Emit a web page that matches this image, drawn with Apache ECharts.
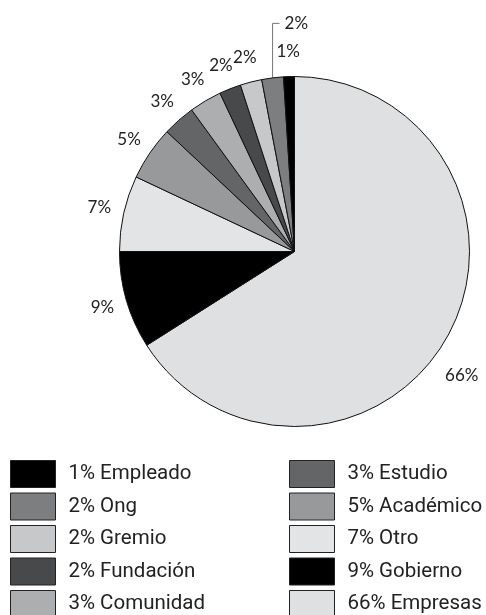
<!DOCTYPE html>
<html>
<head>
<meta charset="utf-8">
<script src="https://cdn.jsdelivr.net/npm/echarts@6/dist/echarts.min.js"></script>
<style>
  html, body { margin: 0; padding: 0; background: #fff; }
  #chart { width: 486px; height: 615px; }
</style>
</head>
<body>
<div id="chart"></div>
<script>
// categorías en orden horario desde las 12
const categories = ["Empresas", "Gobierno", "Otro", "Académico", "Estudio", "Comunidad", "Fundación", "Gremio", "Ong", "Empleado"];
const values = [66, 9, 7, 5, 3, 3, 2, 2, 2, 1];
const colors = ["#dfe0e2", "#000000", "#e3e4e6", "#98999b", "#646567", "#adaeb0", "#48494b", "#c7c8ca", "#7d7e80", "#000000"];

// columnas de la leyenda
const legendLeft = ["Empleado", "Ong", "Gremio", "Fundación", "Comunidad"];
const legendRight = ["Estudio", "Académico", "Otro", "Gobierno", "Empresas"];

const chart = echarts.init(document.getElementById("chart"));

const valueOf = (name) => values[categories.indexOf(name)];

const pieData = categories.map((name, i) => {
  const item = { name: name, value: values[i], itemStyle: { color: colors[i] } };
  // la etiqueta de "Ong" va arriba con línea guía
  if (name === "Ong") item.labelLine = { show: true };
  return item;
});

const legendBase = {
  orient: "vertical",
  top: 460,
  height: 160,
  padding: 0,
  itemWidth: 45,
  itemHeight: 27,
  itemGap: 4.5,
  icon: "rect",
  selectedMode: false,
  itemStyle: { borderColor: "#222", borderWidth: 1 },
  textStyle: {
    fontFamily: "Roboto",
    fontSize: 20.5,
    color: "#222",
    padding: [0, 0, 0, 8],
  },
  formatter: (name) => valueOf(name) + "% " + name,
};

chart.setOption({
  animation: false,
  legend: [
    Object.assign({}, legendBase, { left: 10, data: legendLeft }),
    Object.assign({}, legendBase, { left: 289, data: legendRight }),
  ],
  series: [
    {
      type: "pie",
      center: [294.5, 251.5],
      radius: 175,
      startAngle: 90,
      clockwise: true,
      avoidLabelOverlap: false,
      emphasis: { disabled: true },
      itemStyle: { borderColor: "#111", borderWidth: 1 },
      label: {
        show: true,
        position: "outside",
        alignTo: "none",
        distanceToLabelLine: 0,
        formatter: "{c}%",
        fontFamily: "Lato",
        fontSize: 17,
        color: "#222",
      },
      labelLine: {
        show: false,
        length: 25,
        length2: 0,
        lineStyle: { color: "#777", width: 1 },
      },
      labelLayout: (params) => {
        const name = categories[params.dataIndex];
        if (name === "Ong" && params.labelLinePoints) {
          const p = params.labelLinePoints[0];
          const up = 54.5;
          return {
            x: p[0] + 12,
            y: p[1] - up,
            align: "left",
            verticalAlign: "middle",
            labelLinePoints: [
              [p[0], p[1]],
              [p[0], p[1] - up],
              [p[0] + 7, p[1] - up],
            ],
          };
        }
        if (name === "Empresas") {
          // etiqueta algo más abajo que el punto medio del sector
          const r = params.labelRect;
          return {
            x: r.x - 8,
            y: r.y + r.height / 2 + 28,
            align: "center",
            verticalAlign: "middle",
          };
        }
        return { align: "center", verticalAlign: "middle" };
      },
      data: pieData,
    },
  ],
});
</script>
</body>
</html>
